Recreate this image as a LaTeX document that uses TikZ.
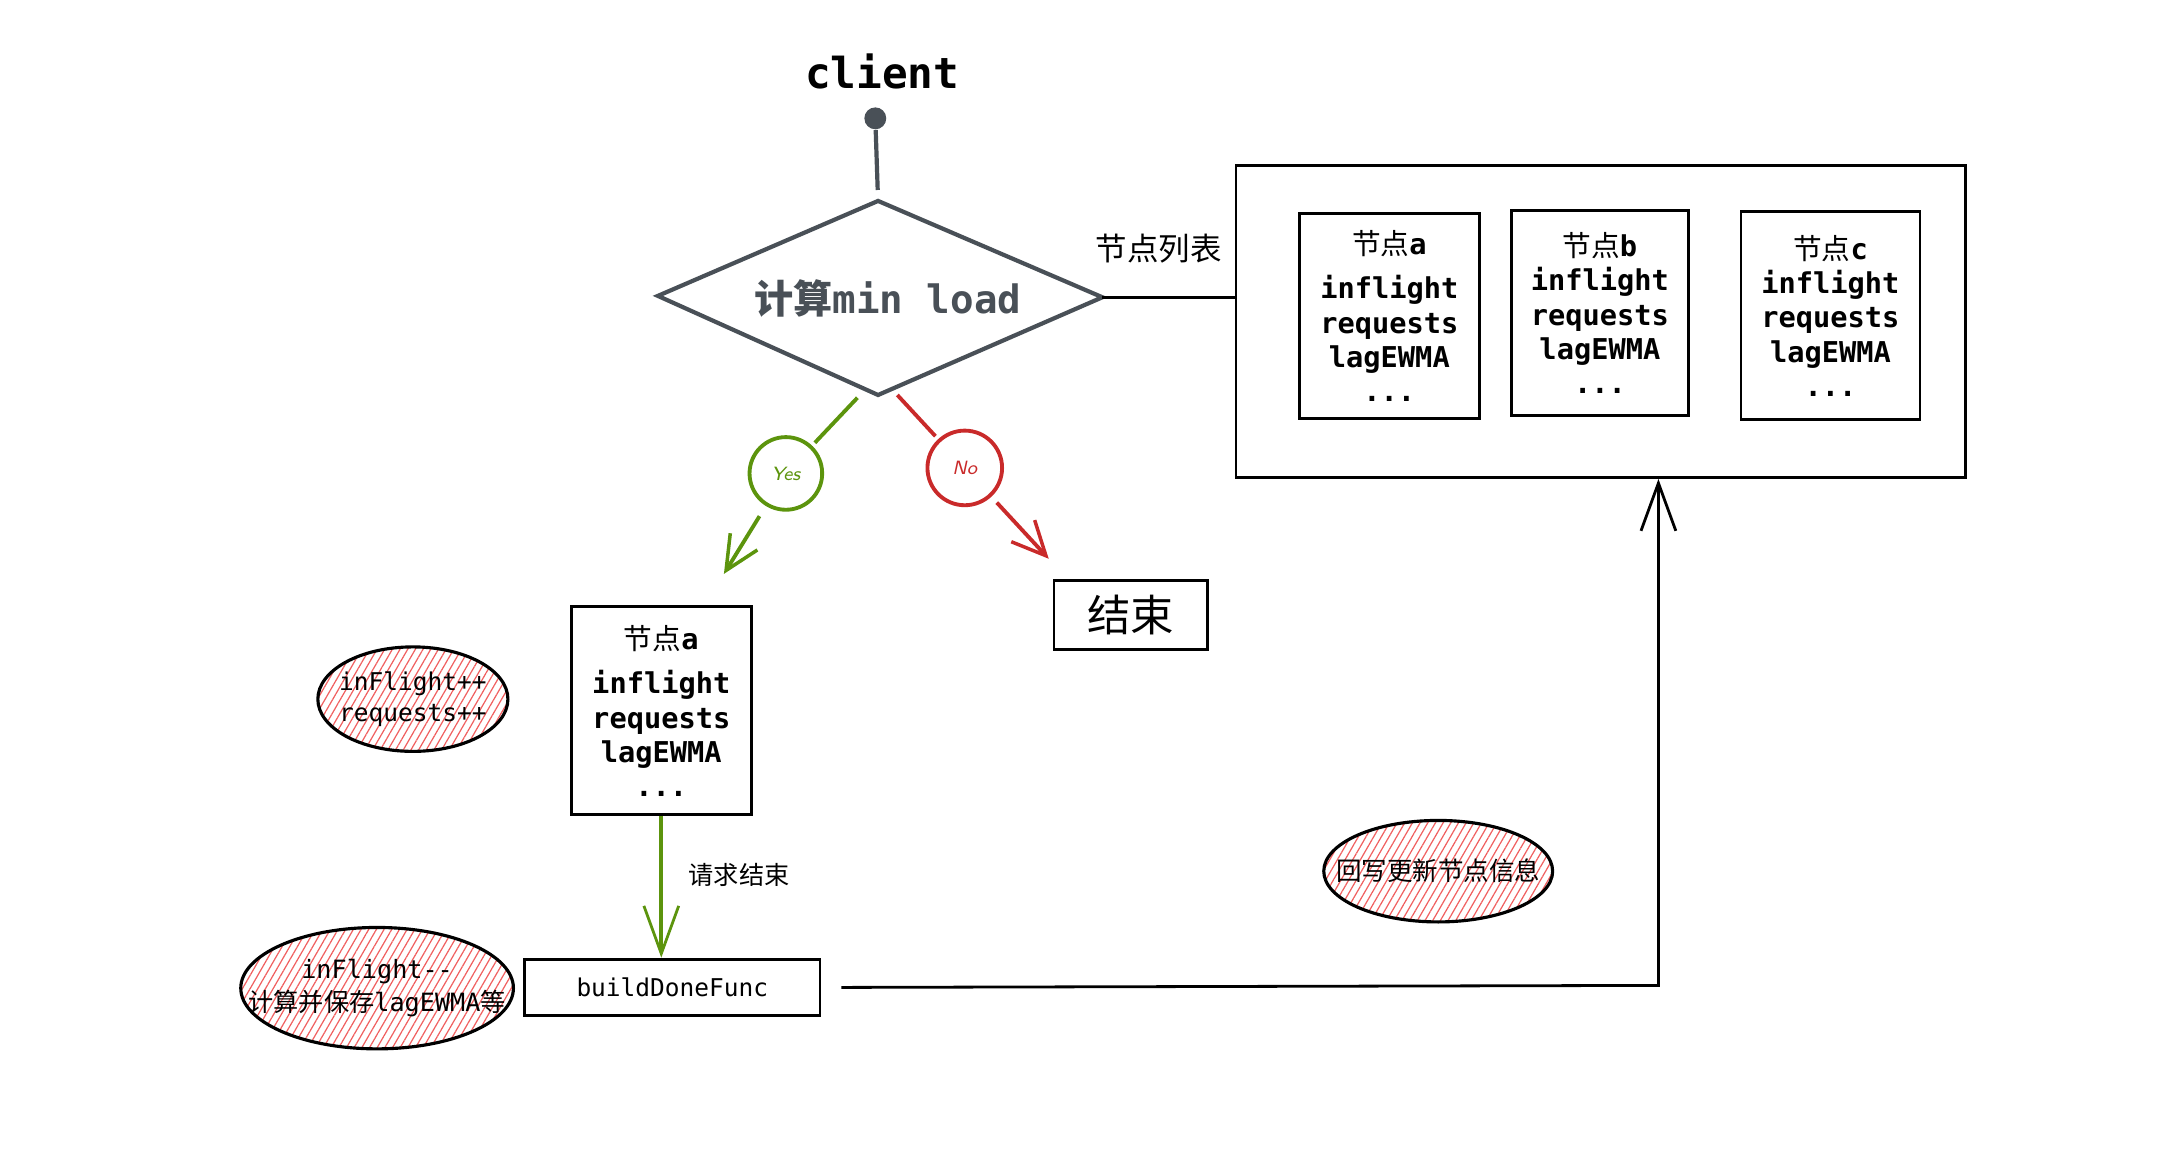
\documentclass[tikz,border=0pt]{standalone}
\usepackage{fontspec}
\setmonofont{DejaVu Sans Mono}
\newfontfamily\cjk{Noto Sans CJK SC}
\usetikzlibrary{arrows.meta, patterns.meta, shapes.geometric, positioning}

\definecolor{slate}{HTML}{495057}
\definecolor{leaf}{HTML}{5C940D}
\definecolor{brick}{HTML}{C92A2A}
\definecolor{blush}{HTML}{F06060}

\newcommand{\fsz}[2]{\fontsize{#1}{#2}\selectfont}

\tikzset{
  card/.style={draw=black, line width=0.8pt, inner sep=0pt, align=center,
    font=\ttfamily\bfseries\fsz{8.2pt}{9.8pt}},
  note/.style={ellipse, draw=black, line width=0.9pt, inner sep=0pt,
    pattern={Lines[angle=60, distance=1.9pt, line width=0.35pt]}, pattern color=blush},
  notetext/.style={inner sep=0pt, align=center, font=\ttfamily\fsz{7pt}{8.8pt}},
  zh/.style={inner sep=0pt, font=\cjk\fsz{7.2pt}{8pt}},
  barb/.style={-{Straight Barb[length=4.8mm, width=3.5mm, line width=0.8pt]}},
  smallbarb/.style={-{Straight Barb[length=3.4mm, width=3.2mm, line width=1pt]}},
}

\begin{document}
\begin{tikzpicture}[x=0.1383mm, y=-0.1383mm]
\useasboundingbox (0,0) rectangle (1568,840);

\node[inner sep=0pt, font=\ttfamily\bfseries\fsz{12.2pt}{14pt}] (client) at (641,52) {client};
\node[circle, fill=slate, inner sep=0pt, minimum size=2.2mm] (cdot) at (636,86) {};

\coordinate (dtop) at (638,146);
\coordinate (dright) at (801,216);
\coordinate (dbot) at (638,287);
\coordinate (dleft) at (478,215);
\draw[slate, line width=1.2pt, line join=miter] (dtop) -- (dright) -- (dbot) -- (dleft) -- cycle;
\node[inner sep=0pt, text=slate, font=\ttfamily\bfseries\fsz{11.2pt}{13pt}] (calc) at (645,217) {{\cjk 计算}min load};
\draw[slate, line width=1.2pt, shorten >=1.1mm] (cdot) -- (dtop);

\node[card, minimum width=73.3mm, minimum height=31.4mm] (list) at (1163,233.5) {};
\node[card, minimum width=18.1mm, minimum height=20.6mm] (na) at (1009.5,229.5)
  {{\cjk\mdseries 节点}a\\[3pt]inflight\\requests\\lagEWMA\\...};
\node[card, minimum width=17.8mm, minimum height=20.6mm] (nb) at (1162.5,227.5)
  {{\cjk\mdseries 节点}b\\inflight\\requests\\lagEWMA\\...};
\node[card, minimum width=18.0mm, minimum height=20.9mm] (nc) at (1330,229.5)
  {{\cjk\mdseries 节点}c\\inflight\\requests\\lagEWMA\\...};

\draw[line width=0.8pt] (dright) -- (dright -| list.west);
\node[zh, font=\cjk\fsz{9pt}{10pt}] (listlabel) at (842,181) {节点列表};

\node[circle, draw=leaf, line width=1.1pt, inner sep=0pt, minimum size=7.3mm,
  text=leaf, font=\sffamily\itshape\fsz{5.5pt}{6pt}] (yes) at (571,344) {Yes};
\node[circle, draw=brick, line width=1.1pt, inner sep=0pt, minimum size=7.5mm,
  text=brick, font=\sffamily\itshape\fsz{5.5pt}{6pt}] (no) at (701,340) {No};

\coordinate (yesfrom) at (623,289);
\coordinate (yesto) at (526,417);
\coordinate (nofrom) at (652,287);
\coordinate (noto) at (762,406);
\draw[leaf, line width=1.1pt, shorten >=0.4mm] (yesfrom) -- (yes);
\draw[leaf, line width=1.1pt, smallbarb, shorten <=1.2mm] (yes) -- (yesto);
\draw[brick, line width=1.1pt, shorten >=0.4mm] (nofrom) -- (no);
\draw[brick, line width=1.1pt, smallbarb, shorten <=0.8mm] (no) -- (noto);

\node[card, font=\cjk\fsz{12.4pt}{14pt}, minimum width=15.4mm, minimum height=6.9mm] (stop) at (821.5,447) {结束};

\node[card, minimum width=18.1mm, minimum height=20.9mm] (anode) at (480.5,516.5)
  {{\cjk\mdseries 节点}a\\[3pt]inflight\\requests\\lagEWMA\\...};

\node[note, minimum width=19.1mm, minimum height=10.5mm] (inc) at (300,508) {};
\node[notetext] (inctext) at (inc) {inFlight++\\requests++};

\node[card, font=\ttfamily\fsz{7pt}{8pt}, minimum width=29.7mm, minimum height=5.7mm] (build) at (488.5,717.5) {buildDoneFunc};

\draw[leaf, line width=1.1pt, barb] (anode.south) -- (anode.south |- build.north);
\node[zh] (reqend) at (537,636) {请求结束};

\node[note, minimum width=27.4mm, minimum height=12.2mm] (dec) at (274,718) {};
\node[notetext, font=\ttfamily\fsz{7.2pt}{9.4pt}] (dectext) at (dec)
  {inFlight--\\{\cjk 计算并保存}lagEWMA{\cjk 等}};

\coordinate (turn) at (1205,716);
\draw[line width=0.8pt, barb, shorten <=2mm] (build.east) -- (turn) -- (turn |- list.south);

\node[note, minimum width=23mm, minimum height=10.2mm] (writeback) at (1045,633) {};
\node[zh, font=\cjk\fsz{7.3pt}{8pt}] (writebacktext) at (writeback) {回写更新节点信息};
\end{tikzpicture}
\end{document}
